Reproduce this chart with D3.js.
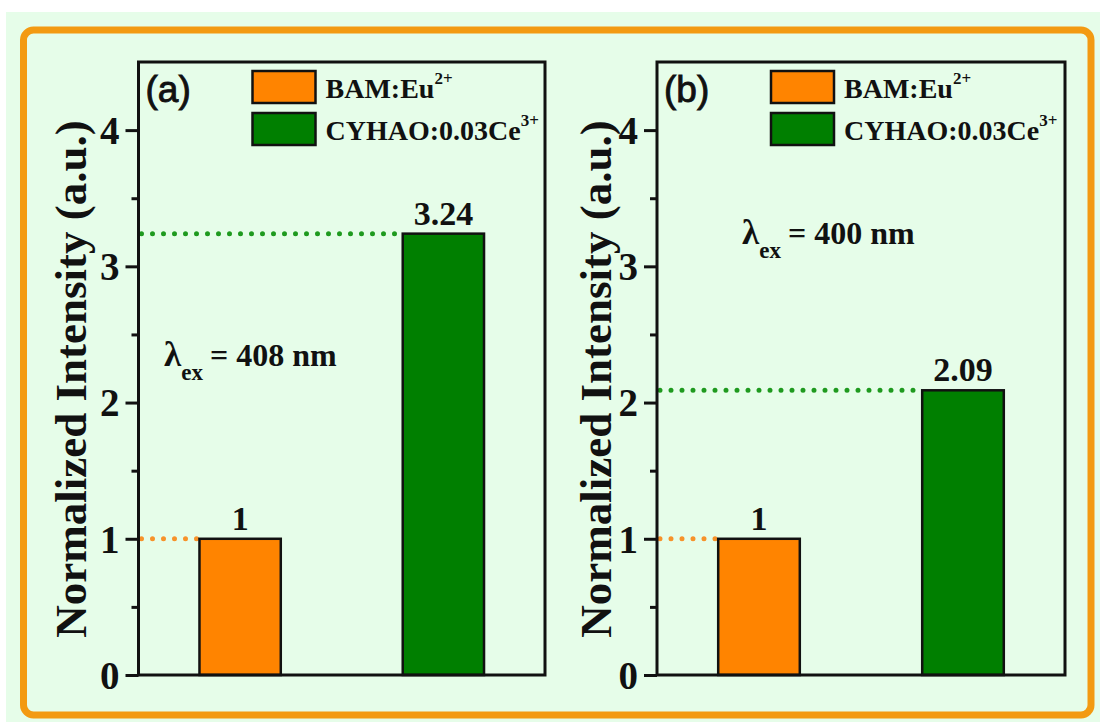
<!DOCTYPE html>
<html><head><meta charset="utf-8">
<script src="https://cdn.jsdelivr.net/npm/d3@7"></script>
<style>
html,body{margin:0;padding:0;background:#fff;}
svg{display:block;}
</style></head>
<body>
<script>
// ---- data ----
const categories = ["BAM:Eu", "CYHAO:0.03Ce"];
const superscripts = ["2+", "3+"];
const panelLabels = ["(a)", "(b)"];
const valuesA = [1, 3.24];
const valuesB = [1, 2.09];
const valueLabelsA = ["1", "3.24"];
const valueLabelsB = ["1", "2.09"];
const excitation = ["408", "400"];
const yTicks = [0, 1, 2, 3, 4];
const yMinorTicks = [0.5, 1.5, 2.5, 3.5];
const barColors = ["#ff8400", "#007f00"];
const dotColors = ["#f7922a", "#1f9a1f"];

const W = 1100, H = 722;
const svg = d3.select("body").append("svg").attr("width", W).attr("height", H);
const serif = "'Liberation Serif','Times New Roman',serif";
const sans = "'Liberation Sans',Arial,sans-serif";

svg.append("rect").attr("x", 6).attr("y", 12).attr("width", W - 6).attr("height", H - 12).attr("fill", "#e6fde9");
svg.append("rect").attr("x", 23.5).attr("y", 30).attr("width", 1091 - 23.5).attr("height", 715 - 30)
  .attr("rx", 10).attr("fill", "none").attr("stroke", "#f39a12").attr("stroke-width", 7);

const y = d3.scaleLinear().domain([0, 4.5]).range([675, 62]);

const panels = [
  {x0: 138.5, x1: 545, values: valuesA, vlabels: valueLabelsA, label: panelLabels[0], ex: excitation[0], exX: 164, exY: 366, titleX: 70},
  {x0: 657, x1: 1065, values: valuesB, vlabels: valueLabelsB, label: panelLabels[1], ex: excitation[1], exX: 742, exY: 244, titleX: 595}
];

panels.forEach(p => {
  const g = svg.append("g");
  const x = d3.scaleBand().domain(categories).range([p.x0, p.x1]).paddingInner(0.6).paddingOuter(0.3);

  // dotted guide lines
  categories.forEach((c, i) => {
    g.append("line").attr("x1", p.x0 + 3).attr("x2", x(c) - 2)
      .attr("y1", y(p.values[i])).attr("y2", y(p.values[i]))
      .attr("stroke", dotColors[i]).attr("stroke-width", 5)
      .attr("stroke-linecap", "round").attr("stroke-dasharray", "0 11");
  });

  // bars
  g.selectAll("rect.bar").data(categories).join("rect").attr("class", "bar")
    .attr("x", d => x(d)).attr("width", x.bandwidth())
    .attr("y", (d, i) => y(p.values[i])).attr("height", (d, i) => y(0) - y(p.values[i]))
    .attr("fill", (d, i) => barColors[i]).attr("stroke", "#111").attr("stroke-width", 2.5);

  // value labels
  g.selectAll("text.val").data(categories).join("text").attr("class", "val")
    .attr("x", d => x(d) + x.bandwidth() / 2).attr("y", (d, i) => y(p.values[i]) - 9)
    .attr("text-anchor", "middle").attr("font-family", serif).attr("font-weight", "bold")
    .attr("font-size", 34).attr("fill", "#111").text((d, i) => p.vlabels[i]);

  // frame
  g.append("rect").attr("x", p.x0).attr("y", y(4.5)).attr("width", p.x1 - p.x0).attr("height", y(0) - y(4.5))
    .attr("fill", "none").attr("stroke", "#111").attr("stroke-width", 3);

  // y axis
  const ax = g.append("g").attr("transform", `translate(${p.x0},0)`)
    .call(d3.axisLeft(y).tickValues(yTicks).tickSize(13).tickPadding(6).tickFormat(d3.format("d")));
  ax.select(".domain").remove();
  ax.selectAll("line").attr("stroke", "#111").attr("stroke-width", 3);
  ax.selectAll("text").attr("font-family", serif).attr("font-weight", "bold").attr("font-size", 39).attr("fill", "#111").attr("dy", "0.34em");
  const axm = g.append("g").attr("transform", `translate(${p.x0},0)`)
    .call(d3.axisLeft(y).tickValues(yMinorTicks).tickSize(7).tickFormat(""));
  axm.select(".domain").remove();
  axm.selectAll("line").attr("stroke", "#111").attr("stroke-width", 3);

  // y title
  g.append("text").attr("transform", `translate(${p.titleX},379) rotate(-90)`)
    .attr("text-anchor", "middle").attr("dy", "0.35em")
    .attr("font-family", serif).attr("font-weight", "bold").attr("font-size", 45).attr("fill", "#111")
    .text("Normalized Intensity (a.u.)");

  // panel label
  g.append("text").attr("x", p.x0 + 7).attr("y", 102).attr("font-family", sans).attr("font-size", 37)
    .attr("fill", "#111").attr("stroke", "#111").attr("stroke-width", 0.9).text(p.label);

  // legend
  categories.forEach((c, i) => {
    const ly = 71 + i * 42;
    g.append("rect").attr("x", p.x0 + 114).attr("y", ly).attr("width", 63).attr("height", 32)
      .attr("fill", barColors[i]).attr("stroke", "#111").attr("stroke-width", 2.5);
    const t = g.append("text").attr("x", p.x0 + 187).attr("y", ly + 27)
      .attr("font-family", serif).attr("font-weight", "bold").attr("font-size", 28).attr("fill", "#111");
    t.append("tspan").text(c);
    t.append("tspan").attr("dy", -14).attr("font-size", 17).text(superscripts[i]);
  });

  // excitation annotation
  const e = g.append("text").attr("x", p.exX).attr("y", p.exY)
    .attr("font-family", serif).attr("font-weight", "bold").attr("fill", "#111");
  e.append("tspan").attr("font-size", 35).text("λ");
  e.append("tspan").attr("font-size", 23).attr("dy", 14).text("ex");
  e.append("tspan").attr("font-size", 32).attr("dy", -14).attr("dx", 7).text("= " + p.ex + " nm");
});
</script>
</body></html>
